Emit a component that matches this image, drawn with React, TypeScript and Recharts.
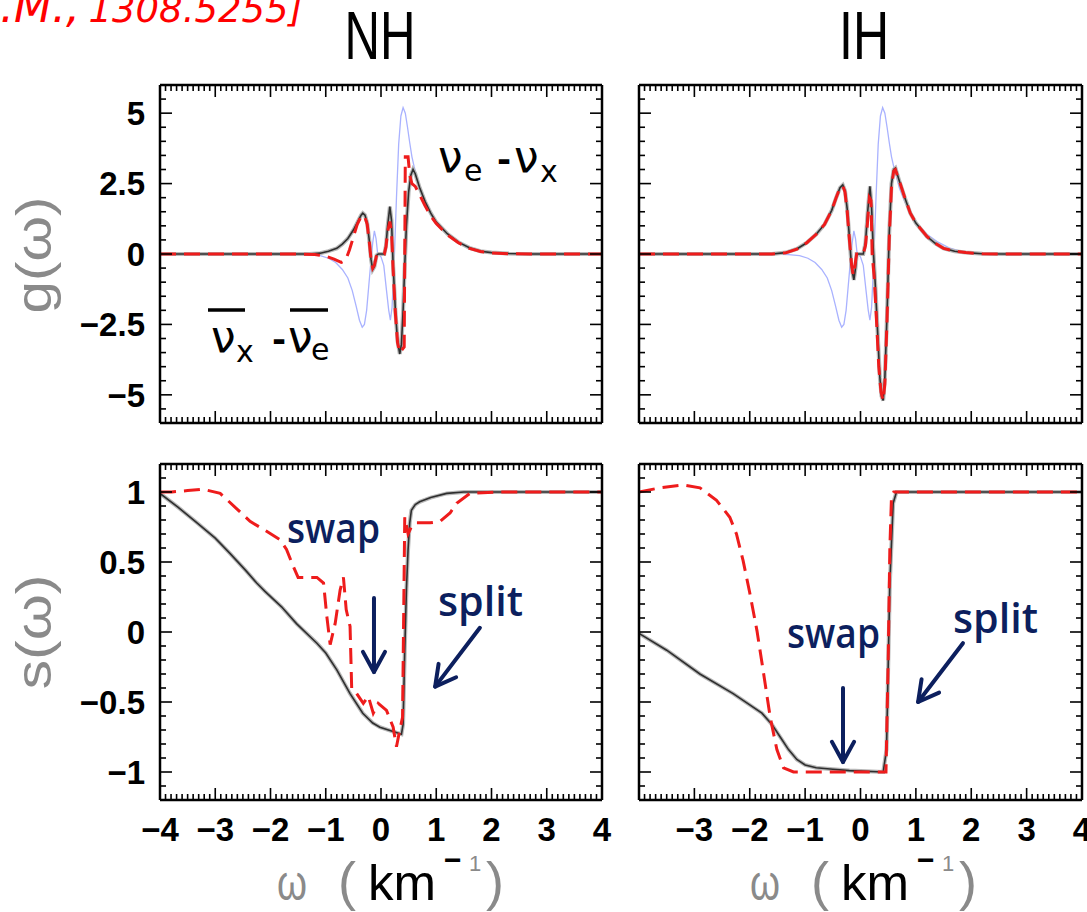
import React from 'react';
import { LineChart, Line, XAxis, YAxis, ReferenceLine } from 'recharts';

// ---------- tick labels ----------
const xLabelTicksLeft = [-4, -3, -2, -1, 0, 1, 2, 3, 4];
const xLabelTicksRight = [-3, -2, -1, 0, 1, 2, 3, 4];
const gMajorTicks = [-5, -2.5, 0, 2.5, 5];
const sMajorTicks = [-1, -0.5, 0, 0.5, 1];
const xMinorTicks = Array.from({ length: 81 }, (_, i) => (i - 40) / 10);
const gMinorTicks = Array.from({ length: 25 }, (_, i) => (i - 12) / 2);
const sMinorTicks = Array.from({ length: 25 }, (_, i) => (i - 12) / 10);

// ---------- data: [omega, value] ----------
const gInitial = [[-4,0],[-1.6,0],[-1.3,-0.02],[-1.1,-0.06],[-0.95,-0.15],[-0.82,-0.3],[-0.7,-0.55],[-0.6,-0.85],[-0.52,-1.3],[-0.45,-1.85],[-0.39,-2.35],[-0.34,-2.6],[-0.3,-2.5],[-0.26,-2.0],[-0.22,-1.1],[-0.18,-0.2],[-0.15,0.4],[-0.12,0.82],[-0.09,0.55],[-0.06,0.0],[0.0,-0.1],[0.05,-0.4],[0.1,-1.3],[0.14,-2.0],[0.17,-2.35],[0.2,-1.9],[0.24,-0.2],[0.28,2.0],[0.32,3.9],[0.36,4.9],[0.4,5.2],[0.44,5.0],[0.48,4.5],[0.52,3.95],[0.56,3.45],[0.6,3.1],[0.64,2.8],[0.7,2.35],[0.8,1.85],[0.9,1.45],[1.0,1.13],[1.2,0.7],[1.4,0.42],[1.6,0.22],[1.8,0.1],[2.0,0.05],[2.3,0.02],[2.7,0],[4,0]];

const nhGFinal = [[-4,0],[-1.3,0],[-1.1,0.03],[-0.95,0.1],[-0.8,0.2],[-0.7,0.35],[-0.6,0.55],[-0.5,0.85],[-0.42,1.15],[-0.36,1.38],[-0.33,1.45],[-0.29,1.38],[-0.25,1.1],[-0.21,0.45],[-0.18,-0.2],[-0.15,-0.55],[-0.12,-0.45],[-0.08,-0.05],[-0.05,0],[0.06,0],[0.09,0.3],[0.12,1.0],[0.16,1.68],[0.19,1.2],[0.22,-0.4],[0.26,-2.0],[0.3,-3.1],[0.34,-3.55],[0.37,-3.2],[0.4,-2.0],[0.43,-0.4],[0.46,1.0],[0.5,2.2],[0.54,2.8],[0.58,3.0],[0.62,2.85],[0.7,2.35],[0.8,1.85],[0.9,1.45],[1.0,1.13],[1.2,0.72],[1.4,0.42],[1.6,0.22],[1.8,0.1],[2.0,0.05],[2.3,0.02],[2.7,0],[4,0]];

const nhGRed = [[-4,0],[-1.5,0],[-1.2,-0.02],[-1.0,-0.08],[-0.85,-0.18],[-0.72,-0.3],[-0.64,-0.22],[-0.57,0.15],[-0.5,0.6],[-0.43,1.05],[-0.37,1.3],[-0.33,1.38],[-0.29,1.3],[-0.25,1.05],[-0.21,0.4],[-0.18,-0.2],[-0.15,-0.5],[-0.12,-0.4],[-0.08,-0.05],[-0.05,0],[0.06,0],[0.09,0.25],[0.12,0.8],[0.16,1.15],[0.19,0.8],[0.22,-0.6],[0.26,-2.1],[0.3,-3.15],[0.34,-3.5],[0.38,-3.4],[0.42,-3.3],[0.44,3.45],[0.49,3.45],[0.52,2.8],[0.56,2.5],[0.62,2.4],[0.7,2.1],[0.8,1.7],[0.9,1.35],[1.0,1.08],[1.2,0.68],[1.4,0.4],[1.6,0.2],[1.8,0.09],[2.0,0.04],[2.3,0.01],[2.7,0],[4,0]];

const ihGFinal = [[-4,0],[-1.6,0],[-1.35,0.05],[-1.15,0.18],[-0.97,0.4],[-0.8,0.7],[-0.65,1.05],[-0.52,1.55],[-0.44,2.0],[-0.37,2.35],[-0.32,2.45],[-0.28,2.25],[-0.24,1.6],[-0.2,0.6],[-0.16,-0.5],[-0.12,-0.92],[-0.09,-0.5],[-0.07,0],[0.05,0],[0.09,0.4],[0.13,1.5],[0.17,2.4],[0.2,1.7],[0.23,0.2],[0.27,-1.2],[0.31,-2.8],[0.35,-4.4],[0.38,-5.05],[0.41,-5.2],[0.44,-4.4],[0.48,-2.1],[0.52,0.8],[0.56,2.5],[0.6,3.0],[0.63,3.05],[0.7,2.6],[0.8,2.0],[0.9,1.45],[1.0,1.1],[1.2,0.62],[1.35,0.38],[1.5,0.2],[1.7,0.1],[1.9,0.05],[2.2,0.01],[2.6,0],[4,0]];

const ihGRed = [[-4,0],[-1.6,0],[-1.35,0.04],[-1.15,0.17],[-0.97,0.4],[-0.8,0.7],[-0.65,1.05],[-0.52,1.55],[-0.44,2.0],[-0.37,2.35],[-0.32,2.42],[-0.28,2.2],[-0.24,1.5],[-0.2,0.5],[-0.16,-0.4],[-0.13,-0.75],[-0.1,-0.4],[-0.07,0],[0.05,0],[0.09,0.3],[0.13,1.2],[0.16,2.0],[0.19,1.9],[0.21,0.0],[0.25,-0.9],[0.29,-2.4],[0.33,-4.0],[0.37,-4.9],[0.41,-5.2],[0.44,-4.6],[0.48,-2.3],[0.52,0.6],[0.56,2.4],[0.6,2.95],[0.63,3.0],[0.7,2.6],[0.8,2.0],[0.9,1.45],[1.0,1.1],[1.2,0.62],[1.35,0.38],[1.5,0.2],[1.7,0.1],[1.9,0.05],[2.2,0.01],[2.6,0],[4,0]];

const nhSFinal = [[-4,0.99],[-3.67,0.89],[-3.33,0.78],[-3.0,0.67],[-2.73,0.56],[-2.45,0.44],[-2.25,0.35],[-2.1,0.29],[-1.8,0.18],[-1.53,0.06],[-1.16,-0.08],[-1.0,-0.15],[-0.8,-0.27],[-0.56,-0.44],[-0.33,-0.58],[-0.15,-0.65],[-0.02,-0.68],[0.29,-0.72],[0.37,-0.73],[0.4,-0.66],[0.43,-0.13],[0.46,0.3],[0.49,0.59],[0.52,0.78],[0.55,0.87],[0.62,0.91],[0.7,0.93],[0.9,0.96],[1.19,0.99],[1.5,1.0],[4,1.0]];

const nhSRed = [[-4,1.0],[-3.79,1.0],[-3.5,1.01],[-3.22,1.02],[-2.91,0.99],[-2.61,0.88],[-2.37,0.79],[-2.07,0.72],[-1.83,0.66],[-1.71,0.59],[-1.59,0.47],[-1.5,0.39],[-1.16,0.39],[-1.04,0.35],[-0.98,0.11],[-0.92,-0.09],[-0.83,0.06],[-0.74,0.3],[-0.68,0.39],[-0.63,0.16],[-0.56,0.04],[-0.53,-0.41],[-0.44,-0.44],[-0.32,-0.51],[-0.23,-0.46],[-0.14,-0.58],[-0.05,-0.51],[0.1,-0.56],[0.22,-0.68],[0.28,-0.82],[0.34,-0.7],[0.39,-0.61],[0.43,0.82],[0.49,0.7],[0.56,0.76],[0.65,0.78],[0.89,0.78],[1.07,0.79],[1.25,0.85],[1.37,0.92],[1.61,0.99],[2.09,1.0],[4,1.0]];

const ihSFinal = [[-4,-0.01],[-3.5,-0.13],[-2.9,-0.3],[-2.3,-0.44],[-1.78,-0.58],[-1.6,-0.66],[-1.45,-0.75],[-1.3,-0.84],[-1.15,-0.91],[-1.0,-0.95],[-0.8,-0.97],[-0.5,-0.98],[-0.2,-0.99],[0.41,-1.0],[0.47,-0.84],[0.53,0.35],[0.59,0.92],[0.65,1.0],[4,1.0]];

const ihSRed = [[-4,1.0],[-3.62,1.03],[-3.2,1.05],[-2.9,1.03],[-2.6,0.94],[-2.36,0.82],[-2.24,0.7],[-2.12,0.51],[-2.0,0.28],[-1.87,0.01],[-1.76,-0.27],[-1.63,-0.61],[-1.51,-0.84],[-1.39,-0.97],[-1.21,-1.0],[0.46,-1.0],[0.5,-0.2],[0.53,0.6],[0.56,0.97],[0.6,1.0],[4,1.0]];

// annotation arrows [x1, y1, x2, y2] in data units
const nhSArrows = [[-0.127, 0.243, -0.127, -0.286], [1.79, 0.03, 0.98, -0.39]];
const ihSArrows = [[-0.316, -0.4, -0.316, -0.929], [1.85, -0.08, 1.04, -0.5]];

const toRows = (pts: number[][]) => pts.map(([x, y]) => ({ x, y }));

const NAVY = '#0c1f5e';
const FRAME = { stroke: '#000', strokeWidth: 2.5 };
const TICK_FONT = 'Liberation Sans, Arial, sans-serif';
const tickText = { fill: '#000', fontSize: 33, fontWeight: 700, fontFamily: TICK_FONT };
const fmt = (v: number) => String(v).replace('-', '\u2212');

const isMajor = (v: number, step: number) => Math.abs(v / step - Math.round(v / step)) < 1e-6;
const makeTick = (side: string, step: number) => (p: any) => {
  const { x, y, payload } = p;
  const len = isMajor(payload.value, step) ? 12 : 6;
  let x2 = x, y2 = y;
  if (side === 'bottom') y2 = y - len;
  if (side === 'top') y2 = y + len;
  if (side === 'left') x2 = x + len;
  if (side === 'right') x2 = x - len;
  return <line x1={x} y1={y} x2={x2} y2={y2} stroke="#000" strokeWidth={1.6} />;
};

function Arrow(p: any) {
  const { x1, y1, x2, y2 } = p;
  if ([x1, y1, x2, y2].some((v) => typeof v !== 'number' || isNaN(v))) return null;
  const ang = Math.atan2(y2 - y1, x2 - x1);
  const L = 23, a = 0.5;
  const ax = x2 - L * Math.cos(ang - a), ay = y2 - L * Math.sin(ang - a);
  const bx = x2 - L * Math.cos(ang + a), by = y2 - L * Math.sin(ang + a);
  return (
    <g>
      <line x1={x1} y1={y1} x2={x2} y2={y2} stroke={NAVY} strokeWidth={4} strokeLinecap="round" />
      <polyline points={`${ax},${ay} ${x2},${y2} ${bx},${by}`} fill="none" stroke={NAVY} strokeWidth={4} strokeLinecap="round" strokeLinejoin="round" />
    </g>
  );
}

type Series = { data: number[][]; stroke: string; width: number; dash?: string };

function Panel(props: any) {
  const { left, top, width, height, margin, yDomain, yMinor, yStep, yMajor, showY, xLabels, series, arrows } = props;
  return (
    <div style={{ position: 'absolute', left, top, width, height }}>
      <LineChart width={width} height={height} margin={margin}>
        <XAxis xAxisId="b" type="number" dataKey="x" domain={[-4, 4]} allowDataOverflow orientation="bottom" mirror
          ticks={xMinorTicks} interval={0} tickLine={false} tickSize={0} tickMargin={0} tick={makeTick('bottom', 1)} axisLine={FRAME} />
        <XAxis xAxisId="t" type="number" dataKey="x" domain={[-4, 4]} allowDataOverflow orientation="top" mirror
          ticks={xMinorTicks} interval={0} tickLine={false} tickSize={0} tickMargin={0} tick={makeTick('top', 1)} axisLine={FRAME} />
        {xLabels && (
          <XAxis xAxisId="lab" type="number" dataKey="x" domain={[-4, 4]} allowDataOverflow orientation="bottom" height={110}
            ticks={xLabels} interval={0} tickLine={false} axisLine={false} tickSize={0} tickMargin={18} tick={tickText} tickFormatter={fmt} />
        )}
        <YAxis yAxisId="l" type="number" domain={yDomain} allowDataOverflow orientation="left" mirror
          ticks={yMinor} interval={0} tickLine={false} tickSize={0} tickMargin={0} tick={makeTick('left', yStep)} axisLine={FRAME} />
        <YAxis yAxisId="r" type="number" domain={yDomain} allowDataOverflow orientation="right" mirror
          ticks={yMinor} interval={0} tickLine={false} tickSize={0} tickMargin={0} tick={makeTick('right', yStep)} axisLine={FRAME} />
        {showY && (
          <YAxis yAxisId="lab" type="number" domain={yDomain} allowDataOverflow orientation="left" width={160}
            ticks={yMajor} interval={0} tickLine={false} axisLine={false} tickSize={0} tickMargin={15} tick={tickText} tickFormatter={fmt} />
        )}
        {series.map((s: Series, i: number) => (
          <Line key={i} xAxisId="b" yAxisId="l" data={toRows(s.data)} dataKey="y" type="linear" dot={false} activeDot={false}
            stroke={s.stroke} strokeWidth={s.width} strokeDasharray={s.dash} isAnimationActive={false} />
        ))}
        {(arrows || []).map((a: number[], i: number) => (
          <ReferenceLine key={'a' + i} xAxisId="b" yAxisId="l" ifOverflow="visible"
            segment={[{ x: a[0], y: a[1] }, { x: a[2], y: a[3] }]} shape={Arrow} />
        ))}
      </LineChart>
    </div>
  );
}

const blue = (d: number[][]): Series => ({ data: d, stroke: '#a9b2ff', width: 1.3 });
const halo = (d: number[][]): Series => ({ data: d, stroke: '#b8b8b8', width: 4 });
const black = (d: number[][]): Series => ({ data: d, stroke: '#2e2e2e', width: 1.6 });
const red = (d: number[][]): Series => ({ data: d, stroke: '#ee1c1c', width: 3, dash: '16 8' });

function XTitle({ x0 }: { x0: number }) {
  return (
    <g fontFamily="Liberation Sans, Arial, sans-serif">
      <text x={x0} y={900} fontSize={50} fill="#8a8a8a" textLength={30} lengthAdjust="spacingAndGlyphs">ω</text>
      <text x={x0 + 61} y={900} fontSize={54} fill="#8a8a8a">(</text>
      <text x={x0 + 91} y={900} fontSize={50} fill="#000" textLength={68} lengthAdjust="spacingAndGlyphs">km</text>
      <text x={x0 + 167} y={870} fontSize={30} fontWeight={700} fill="#000">−</text>
      <text x={x0 + 192} y={871} fontSize={22} fill="#8a8a8a">1</text>
      <text x={x0 + 209} y={900} fontSize={54} fill="#8a8a8a">)</text>
    </g>
  );
}

export default function App() {
  const gyDomain = [-6, 6];
  const syDomain = [-1.2, 1.2];
  return (
    <div style={{ position: 'absolute', left: 0, top: 0, width: 1087, height: 912, overflow: 'hidden', background: '#fff' }}>
      <Panel left={0} top={75} width={612} height={358} margin={{ top: 10, right: 10, bottom: 10, left: 0 }}
        yDomain={gyDomain} yMinor={gMinorTicks} yStep={2.5} yMajor={gMajorTicks} showY
        series={[blue(gInitial), halo(nhGFinal), black(nhGFinal), red(nhGRed)]} />
      <Panel left={629} top={75} width={463} height={358} margin={{ top: 10, right: 10, bottom: 10, left: 10 }}
        yDomain={gyDomain} yMinor={gMinorTicks} yStep={2.5} yMajor={gMajorTicks}
        series={[blue(gInitial), halo(ihGFinal), black(ihGFinal), red(ihGRed)]} />
      <Panel left={0} top={454} width={612} height={456} margin={{ top: 10, right: 10, bottom: 0, left: 0 }}
        yDomain={syDomain} yMinor={sMinorTicks} yStep={0.5} yMajor={sMajorTicks} showY xLabels={xLabelTicksLeft}
        series={[halo(nhSFinal), black(nhSFinal), red(nhSRed)]} arrows={nhSArrows} />
      <Panel left={629} top={454} width={463} height={456} margin={{ top: 10, right: 10, bottom: 0, left: 10 }}
        yDomain={syDomain} yMinor={sMinorTicks} yStep={0.5} yMajor={sMajorTicks} xLabels={xLabelTicksRight}
        series={[halo(ihSFinal), black(ihSFinal), red(ihSRed)]} arrows={ihSArrows} />

      <svg width={1087} height={912} style={{ position: 'absolute', left: 0, top: 0, pointerEvents: 'none' }}>
        <g fontFamily="DejaVu Sans, sans-serif" fontStyle="italic" fill="#ff0000">
          <text x={80} y={22} textAnchor="end" fontSize={44}>[A.M.,</text>
          <text x={303} y={22} textAnchor="end" fontSize={37}>1308.5255]</text>
        </g>
        <text x={380} y={59} textAnchor="middle" fontFamily="Liberation Sans, Arial, sans-serif" fontSize={68} textLength={71} lengthAdjust="spacingAndGlyphs" fill="#000">NH</text>
        <text x={864} y={59} textAnchor="middle" fontFamily="Liberation Sans, Arial, sans-serif" fontSize={68} textLength={50} lengthAdjust="spacingAndGlyphs" fill="#000">IH</text>

        <text transform="translate(51,255) rotate(-90)" textAnchor="middle" fontFamily="Liberation Sans, Arial, sans-serif" fontSize={50} textLength={117} lengthAdjust="spacingAndGlyphs" fill="#8a8a8a">g(ω)</text>
        <text transform="translate(51,632) rotate(-90)" textAnchor="middle" fontFamily="Liberation Sans, Arial, sans-serif" fontSize={50} textLength={115} lengthAdjust="spacingAndGlyphs" fill="#8a8a8a">s(ω)</text>

        <XTitle x0={277} />
        <XTitle x0={750} />

        <g fontFamily="DejaVu Sans, sans-serif" fill="#000">
          <text x={438} y={172} fontSize={44}>ν</text>
          <text x={464} y={181} fontSize={30}>e</text>
          <text x={497} y={171} fontSize={34} fontWeight={700}>-</text>
          <text x={514} y={172} fontSize={44}>ν</text>
          <text x={540} y={182} fontSize={30}>x</text>

          <text x={211} y={352} fontSize={44}>ν</text>
          <text x={236} y={362} fontSize={30}>x</text>
          <text x={272} y={351} fontSize={34} fontWeight={700}>-</text>
          <text x={288} y={352} fontSize={44}>ν</text>
          <text x={311} y={360} fontSize={30}>e</text>
          <line x1={208} y1={310} x2={245} y2={310} stroke="#000" strokeWidth={3.5} />
          <line x1={290} y1={310} x2={328} y2={310} stroke="#000" strokeWidth={3.5} />
        </g>

        <g fontFamily="Open Sans, DejaVu Sans, sans-serif" fill={NAVY} fontSize={42} fontWeight={600}>
          <text x={287} y={543} textLength={93} lengthAdjust="spacingAndGlyphs">swap</text>
          <text x={438} y={616} textLength={85} lengthAdjust="spacingAndGlyphs">split</text>
          <text x={787} y={648} textLength={93} lengthAdjust="spacingAndGlyphs">swap</text>
          <text x={953} y={633} textLength={85} lengthAdjust="spacingAndGlyphs">split</text>
        </g>
      </svg>
    </div>
  );
}
